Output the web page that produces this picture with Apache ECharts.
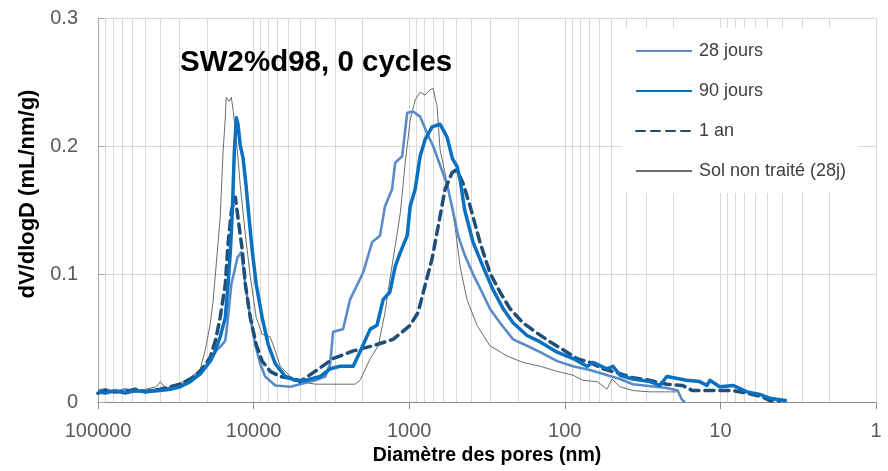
<!DOCTYPE html>
<html>
<head>
<meta charset="utf-8">
<script src="https://cdn.jsdelivr.net/npm/echarts@6/dist/echarts.min.js"></script>
<style>
html, body { margin: 0; padding: 0; background: #fff; }
#chart { width: 888px; height: 471px; }
</style>
</head>
<body>
<div id="chart"></div>
<script>
// diamètre (nm), dV/dlogD (mL/nm/g)
var jours28 = [
	[100000,0.009],[89800,0.010],[77400,0.008],[66800,0.010],[57600,0.008],[49700,0.009],[39800,0.010],
	[34300,0.011],[29600,0.013],[25500,0.017],[22000,0.024],[19000,0.032],[17600,0.040],[16400,0.043],
	[15200,0.048],[14600,0.066],[13900,0.092],[13300,0.102],[12700,0.113],[12000,0.117],[11300,0.092],
	[10500,0.066],[9770,0.045],[9070,0.030],[8430,0.020],[7260,0.013],[5810,0.012],[5020,0.014],
	[4020,0.017],[3460,0.020],[3220,0.030],[3080,0.055],[2660,0.057],[2400,0.080],[1980,0.101],
	[1730,0.125],[1540,0.130],[1430,0.153],[1290,0.166],[1230,0.187],[1110,0.192],[1030,0.226],
	[944,0.227],[851,0.223],[768,0.210],[702,0.200],[633,0.185],[571,0.170],[525,0.150],[485,0.130],
	[440,0.115],[389,0.100],[341,0.086],[303,0.073],[261,0.062],[215,0.049],[175,0.044],[144,0.039],
	[112,0.032],[88.5,0.028],[68.9,0.025],[44.2,0.018],[36.5,0.014],[22.1,0.011],[18.8,0.009],
	[17.7,0.002],[16.9,0]
];
var jours90 = [
	[100000,0.008],[89800,0.007],[77400,0.009],[66800,0.007],[57600,0.009],[49700,0.008],[39800,0.009],
	[34300,0.010],[29600,0.012],[25500,0.016],[22000,0.022],[19000,0.032],[17600,0.040],[16400,0.051],
	[15200,0.066],[14600,0.092],[14100,0.118],[13700,0.149],[13300,0.196],[12900,0.222],[12600,0.217],
	[12200,0.201],[11700,0.191],[11200,0.170],[10700,0.144],[10200,0.118],[9620,0.092],[8810,0.066],
	[8060,0.045],[7260,0.030],[6260,0.020],[5400,0.017],[4660,0.017],[3730,0.020],[3220,0.026],
	[2780,0.028],[2290,0.028],[2130,0.036],[1780,0.057],[1610,0.060],[1470,0.080],[1330,0.086],
	[1230,0.106],[1140,0.117],[1030,0.130],[986,0.153],[916,0.166],[851,0.192],[791,0.205],[713,0.215],
	[633,0.217],[571,0.207],[527,0.190],[492,0.184],[471,0.174],[440,0.150],[389,0.125],[336,0.106],
	[290,0.088],[249,0.073],[215,0.062],[175,0.052],[144,0.047],[112,0.039],[88.5,0.034],[72,0.028],
	[65.9,0.031],[53.6,0.026],[49,0.028],[44.2,0.021],[36.5,0.018],[28.4,0.016],[24.5,0.013],[22.1,0.020],
	[16.5,0.017],[13.6,0.016],[12.2,0.013],[11.7,0.017],[10.1,0.012],[8.3,0.013],[6.75,0.008],[5.57,0.006],
	[4.81,0.003],[3.74,0.001]
];
var an1 = [
	[100000,0.007],[89800,0.009],[77400,0.008],[66800,0.008],[57600,0.010],[49700,0.008],[39800,0.010],
	[34300,0.012],[29600,0.014],[25500,0.018],[22000,0.024],[19000,0.035],[17600,0.048],[16400,0.066],
	[15200,0.092],[14600,0.123],[13900,0.149],[13100,0.160],[12600,0.144],[11800,0.118],[11300,0.092],
	[10500,0.066],[9620,0.045],[8810,0.032],[7820,0.024],[6740,0.020],[5400,0.018],[5020,0.016],
	[4140,0.023],[3080,0.034],[2290,0.040],[1710,0.044],[1270,0.049],[986,0.060],[877,0.070],[791,0.091],
	[713,0.112],[652,0.137],[589,0.166],[531,0.179],[507,0.181],[471,0.176],[451,0.171],[406,0.153],
	[351,0.125],[303,0.101],[261,0.086],[225,0.073],[186,0.062],[151,0.054],[124,0.047],[103,0.041],
	[83.5,0.034],[68.9,0.031],[56.9,0.026],[46.2,0.023],[36.5,0.019],[28.4,0.017],[22.1,0.014],
	[17.5,0.013],[15.1,0.009],[10.5,0.009],[8.3,0.009],[6.75,0.007],[5.33,0.004],[4.81,0.001],[4.15,0.001]
];
var solNonTraite = [
	[100000,0.007],[89800,0.008],[77400,0.007],[66800,0.009],[57600,0.008],[49700,0.010],[42000,0.012],
	[39800,0.016],[37000,0.011],[34300,0.012],[29600,0.015],[25500,0.019],[22000,0.026],[20500,0.040],
	[19000,0.061],[18200,0.079],[17100,0.118],[16400,0.144],[15700,0.196],[15200,0.222],[15000,0.238],
	[14400,0.235],[13900,0.238],[13500,0.227],[12700,0.196],[12200,0.170],[11300,0.131],[10500,0.098],
	[9620,0.066],[8810,0.053],[7820,0.051],[7260,0.040],[6740,0.028],[5810,0.020],[5020,0.016],
	[4000,0.014],[3000,0.014],[2230,0.014],[2070,0.017],[1780,0.034],[1580,0.044],[1430,0.070],
	[1330,0.096],[1230,0.122],[1140,0.148],[1060,0.187],[986,0.220],[916,0.236],[851,0.242],[791,0.240],
	[734,0.244],[702,0.245],[662,0.231],[633,0.197],[546,0.160],[507,0.137],[471,0.106],[425,0.080],
	[367,0.060],[303,0.044],[235,0.036],[186,0.031],[144,0.028],[112,0.024],[88.5,0.021],[76.4,0.017],
	[62.1,0.016],[56,0.012],[53.6,0.010],[49.8,0.018],[44.2,0.012],[36.5,0.009],[28.4,0.008],[22.1,0.008],
	[19.1,0.008]
];
var seriesNames = ['28 jours', '90 jours', '1 an', 'Sol non traité (28j)'];
var yTicks = [0, 0.1, 0.2, 0.3];

// lignes de grille secondaires (2..9 x 10^n)
var minorGrid = [];
[1, 10, 100, 1000, 10000].forEach(function (p) {
	for (var k = 2; k <= 9; k++) minorGrid.push({ xAxis: k * p });
});

var font = 'Liberation Sans';
var chart = echarts.init(document.getElementById('chart'));
var option = {
	animation: false,
	textStyle: { fontFamily: font },
	title: {
		text: 'SW2%d98, 0 cycles',
		left: 180,
		top: 48,
		padding: 0,
		textStyle: { fontFamily: font, fontSize: 29.5, fontWeight: 'bold', color: '#000' }
	},
	legend: {
		data: seriesNames,
		orient: 'vertical',
		left: 622,
		top: 28,
		z: 10,
		padding: [14, 12, 13, 13],
		itemWidth: 56,
		itemHeight: 18,
		itemGap: 22,
		backgroundColor: '#fff',
		itemStyle: { opacity: 0 },
		textStyle: { fontFamily: font, fontSize: 18, color: '#404040', padding: [0, 0, 0, 2] }
	},
	grid: { left: 98, right: 12, top: 18, bottom: 67 },
	xAxis: {
		type: 'log',
		logBase: 10,
		min: 1,
		max: 100000,
		inverse: true,
		name: 'Diamètre des pores (nm)',
		nameLocation: 'middle',
		nameGap: 43,
		nameTextStyle: { fontFamily: font, fontSize: 19.5, fontWeight: 'bold', color: '#000' },
		axisLine: { lineStyle: { color: '#8c8c8c', width: 1 } },
		axisTick: { show: true, inside: false, length: 7, lineStyle: { color: '#8c8c8c' } },
		axisLabel: {
			margin: 19,
			fontSize: 20,
			color: '#595959',
			formatter: function (v) { return String(Math.round(v)); }
		},
		splitLine: { show: true, lineStyle: { color: '#d9d9d9', width: 1 } }
	},
	yAxis: {
		type: 'value',
		min: 0,
		max: 0.3,
		interval: 0.1,
		name: 'dV/dlogD (mL/nm/g)',
		nameLocation: 'middle',
		nameGap: 56,
		nameTextStyle: { fontFamily: font, fontSize: 22, fontWeight: 'bold', color: '#000', padding: [0, 0, 0, 32] },
		axisLine: { show: true, lineStyle: { color: '#a6a6a6', width: 1 } },
		axisTick: { show: true, inside: true, length: 7, lineStyle: { color: '#a6a6a6' } },
		axisLabel: {
			margin: 20,
			fontSize: 20,
			color: '#595959',
			formatter: function (v) {
				for (var i = 0; i < yTicks.length; i++) {
					if (Math.abs(v - yTicks[i]) < 1e-9) return yTicks[i] === 0 ? '0' : yTicks[i].toFixed(1);
				}
				return '';
			}
		},
		splitLine: { show: true, lineStyle: { color: '#d9d9d9', width: 1 } }
	},
	series: [
		{
			name: 'grille',
			type: 'line',
			data: [],
			z: 1,
			silent: true,
			markLine: {
				z: 1,
				silent: true,
				symbol: ['none', 'none'],
				label: { show: false },
				lineStyle: { color: '#d9d9d9', width: 1, type: 'solid' },
				emphasis: { disabled: true },
				data: minorGrid
			}
		},
		{
			name: seriesNames[3],
			type: 'line',
			data: solNonTraite,
			symbol: 'none',
			z: 2,
			lineStyle: { color: '#6b6b6b', width: 1 },
			itemStyle: { color: '#6b6b6b' }
		},
		{
			name: seriesNames[0],
			type: 'line',
			data: jours28,
			symbol: 'none',
			z: 3,
			lineStyle: { color: '#5a8ac8', width: 2.6, join: 'round' },
			itemStyle: { color: '#5a8ac8' }
		},
		{
			name: seriesNames[2],
			type: 'line',
			data: an1,
			symbol: 'none',
			z: 4,
			lineStyle: { color: '#1f4e79', width: 3.5, type: [9, 6], cap: 'round', join: 'round' },
			itemStyle: { color: '#1f4e79' }
		},
		{
			name: seriesNames[1],
			type: 'line',
			data: jours90,
			symbol: 'none',
			z: 5,
			lineStyle: { color: '#0a70c0', width: 3.5, join: 'round' },
			itemStyle: { color: '#0a70c0' }
		}
	]
};
chart.setOption(option);
</script>
</body>
</html>
